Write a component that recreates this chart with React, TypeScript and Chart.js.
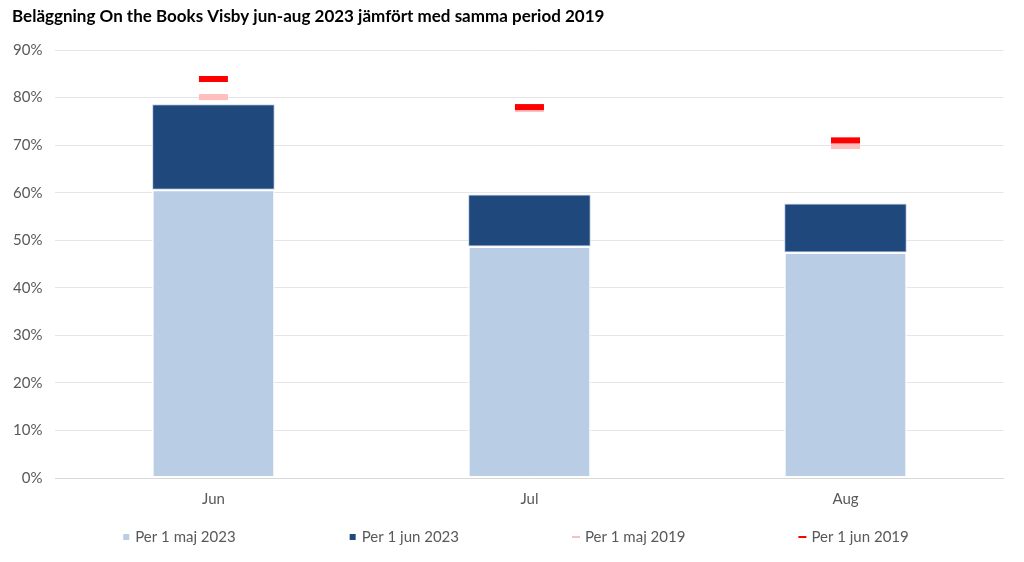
import React, { useEffect, useRef } from "react";
import { Chart, registerables } from "chart.js";

Chart.register(...registerables);

const categories = ["Jun", "Jul", "Aug"];
const seriesLabels = ["Per 1 maj 2023", "Per 1 jun 2023", "Per 1 maj 2019", "Per 1 jun 2019"];
// stacked 2023 values (percent)
const maj2023 = [60.6, 48.7, 47.4];
const jun2023Increment = [18.0, 10.9, 10.3];
// 2019 reference markers (percent)
const maj2019 = [80.1, 77.6, 69.8];
const jun2019 = [83.9, 78.0, 71.0];
const yTicks = [0, 10, 20, 30, 40, 50, 60, 70, 80, 90];

const TITLE = "Beläggning On the Books Visby jun-aug 2023 jämfört med samma period 2019";
const FONT = "Lato, 'Open Sans', 'DejaVu Sans', sans-serif";
const colors = ["#B9CDE5", "#1F497D", "#FFBDBD", "#FF0000"];

const titleLegendPlugin = {
  id: "titleLegend",
  afterDraw(chart: any) {
    const ctx = chart.ctx as CanvasRenderingContext2D;
    ctx.save();
    // title
    ctx.fillStyle = "#000000";
    ctx.font = `bold 17px ${FONT}`;
    ctx.textAlign = "left";
    ctx.textBaseline = "middle";
    ctx.fillText(TITLE, 12, 17);
    // legend
    ctx.font = `15px ${FONT}`;
    const markerW = 6;
    const gapText = 6;
    const gapItems = 114;
    const widths = seriesLabels.map((t) => markerW + gapText + ctx.measureText(t).width);
    const total = widths.reduce((a, b) => a + b, 0) + gapItems * (seriesLabels.length - 1);
    let x = chart.width / 2 + 4 - total / 2;
    const y = 537;
    seriesLabels.forEach((t, i) => {
      ctx.fillStyle = colors[i];
      if (i < 2) {
        ctx.fillRect(x, y - 3, 6, 6);
      } else {
        ctx.fillRect(x - 1, y - 1, 8, 2);
      }
      ctx.fillStyle = "#595959";
      ctx.textAlign = "left";
      ctx.textBaseline = "middle";
      ctx.fillText(t, x + markerW + gapText, y);
      x += widths[i] + gapItems;
    });
    ctx.restore();
  },
};

export default function App() {
  const ref = useRef<HTMLCanvasElement | null>(null);

  useEffect(() => {
    document.body.style.margin = "0";
    const ctx = ref.current!;
    const chart = new Chart(ctx, {
      type: "bar",
      data: {
        labels: categories,
        datasets: [
          {
            type: "bar",
            label: seriesLabels[0],
            data: maj2023,
            backgroundColor: colors[0],
            borderColor: "#FFFFFF",
            borderWidth: 1.5,
            borderSkipped: false,
            stack: "s",
            order: 2,
            categoryPercentage: 1,
            barPercentage: 0.388,
          } as any,
          {
            type: "bar",
            label: seriesLabels[1],
            data: jun2023Increment,
            backgroundColor: colors[1],
            borderColor: "#C9D6E8",
            borderWidth: 1,
            borderSkipped: false,
            stack: "s",
            order: 3,
            categoryPercentage: 1,
            barPercentage: 0.388,
          } as any,
          {
            type: "line",
            label: seriesLabels[2],
            data: maj2019,
            stack: "p",
            showLine: false,
            pointStyle: "line",
            pointRadius: 14.5,
            pointHoverRadius: 14.5,
            pointBorderWidth: 6,
            pointHoverBorderWidth: 6,
            borderColor: colors[2],
            backgroundColor: colors[2],
            order: 1,
          } as any,
          {
            type: "line",
            label: seriesLabels[3],
            data: jun2019,
            stack: "r",
            showLine: false,
            pointStyle: "line",
            pointRadius: 14.5,
            pointHoverRadius: 14.5,
            pointBorderWidth: 6,
            pointHoverBorderWidth: 6,
            borderColor: colors[3],
            backgroundColor: colors[3],
            order: 0,
          } as any,
        ],
      },
      options: {
        animation: false,
        responsive: true,
        maintainAspectRatio: false,
        layout: { padding: { left: 0, right: 19, top: 50, bottom: 50 } },
        plugins: {
          tooltip: { enabled: false },
          title: { display: false },
          legend: { display: false },
        },
        scales: {
          x: {
            stacked: true,
            grid: { display: false },
            border: { display: true, color: "#D9D9D9" },
            ticks: { color: "#595959", font: { family: FONT, size: 15 }, padding: 4 },
          },
          y: {
            stacked: true,
            min: 0,
            max: 90,
            afterBuildTicks: (axis: any) => {
              axis.ticks = yTicks.map((v) => ({ value: v }));
            },
            grid: { color: "#E6E6E6", drawTicks: false },
            border: { display: false },
            ticks: {
              color: "#595959",
              font: { family: FONT, size: 15 },
              padding: 13,
              callback: (v: any) => `${v}%`,
            },
          },
        },
      },
      plugins: [titleLegendPlugin],
    });
    return () => chart.destroy();
  }, []);

  return (
    <div style={{ width: 1024, height: 562, position: "relative" }}>
      <canvas ref={ref} />
    </div>
  );
}
